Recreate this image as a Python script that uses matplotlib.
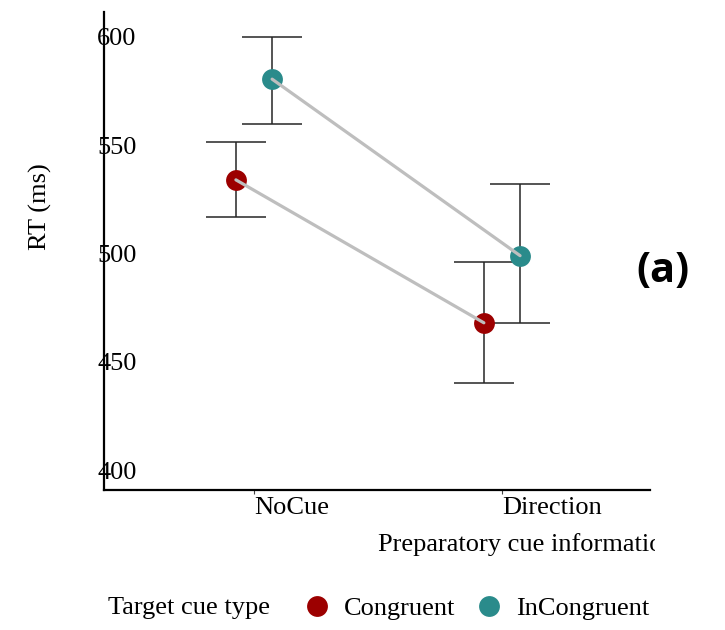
import matplotlib
matplotlib.use('Agg')
import matplotlib.pyplot as plt
from matplotlib.lines import Line2D
from matplotlib.transforms import Bbox, TransformedBbox
import numpy as np

# data
conditions = ['NoCue', 'Direction']
cue_types = ['Congruent', 'InCongruent']
rt_mean = {'Congruent': [534, 468], 'InCongruent': [580.5, 499]}
rt_low = {'Congruent': [517, 440], 'InCongruent': [560, 468]}
rt_high = {'Congruent': [551.5, 496], 'InCongruent': [600, 532]}
colors = {'Congruent': '#9C0000', 'InCongruent': '#2A8B8B'}
y_ticks = [400, 450, 500, 550, 600]

plt.rcParams['font.family'] = 'Liberation Serif'
plt.rcParams['font.size'] = 19

fig = plt.figure(figsize=(7.25, 6.3), dpi=100)
ax = fig.add_axes([104/725, 1 - 490/630, (650 - 104)/725, (490 - 12)/630])

xpos = np.arange(len(conditions))
dodge = {'Congruent': -0.073, 'InCongruent': 0.073}

for ct in cue_types:
    x = xpos + dodge[ct]
    m = np.array(rt_mean[ct])
    err = [m - np.array(rt_low[ct]), np.array(rt_high[ct]) - m]
    ax.errorbar(x, m, yerr=err, fmt='none', ecolor='#262626', elinewidth=1.1,
                capsize=21.5, capthick=1.1, zorder=2)
    ax.plot(x, m, 'o', color=colors[ct], markersize=15, markeredgewidth=0, zorder=3)
    ax.plot(x, m, '-', color='#BEBEBE', linewidth=2.3, zorder=4, solid_capstyle='round')

ax.set_xlim(-0.605, 1.597)
ax.set_ylim(390.8, 611.5)
ax.set_xticks(xpos)
ax.set_xticklabels(conditions)
ax.set_yticks(y_ticks)

for side in ['top', 'right']:
    ax.spines[side].set_visible(False)
for side in ['left', 'bottom']:
    ax.spines[side].set_linewidth(1.6)
    ax.spines[side].set_color('black')

ax.tick_params(axis='y', length=0, pad=5)
for lab in ax.get_yticklabels():
    lab.set_horizontalalignment('left')
ax.tick_params(axis='x', length=3, width=0.8, color='#444444', pad=2)
for lab in ax.get_xticklabels():
    lab.set_horizontalalignment('left')

# axis titles
xl = fig.text(378/725, 1 - 545/630, 'Preparatory cue information', ha='left', va='center')
xl.set_clip_on(True)
xl.set_clip_box(TransformedBbox(Bbox([[0, 0], [655/725, 1]]), fig.transFigure))
fig.text(40/725, 1 - 250/630, 'RT (ms)', rotation=90, ha='center', va='bottom')

fig.text(636/725, 1 - 271/630, '(a)', family=['Open Sans', 'DejaVu Sans'], fontweight='bold',
         fontsize=30, ha='left', va='center')

# legend at bottom
fig.text(108/725, 1 - 608/630, 'Target cue type', ha='left', va='center')
handles = [Line2D([], [], marker='o', linestyle='none', color=colors[ct],
                  markersize=15, markeredgewidth=0) for ct in cue_types]
fig.legend(handles, cue_types, loc='center left', bbox_to_anchor=(304/725, 1 - 608/630),
           ncol=2, frameon=False, borderpad=0, borderaxespad=0, handlelength=1.0,
           handletextpad=0.5, columnspacing=0.8)

fig.savefig('out.png', dpi=100)
